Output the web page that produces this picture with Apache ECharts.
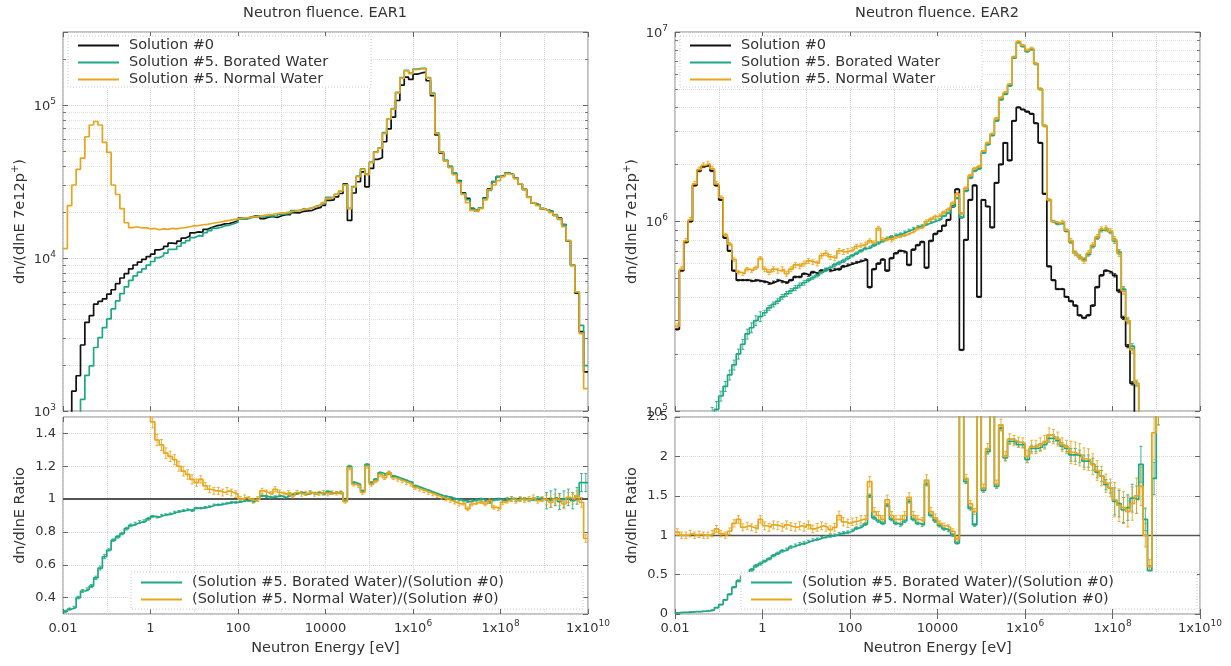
<!DOCTYPE html>
<html><head><meta charset="utf-8">
<script src="https://cdn.jsdelivr.net/npm/echarts@6/dist/echarts.min.js"></script>
<style>html,body{margin:0;padding:0;background:#fff}#c{width:1231px;height:666px}</style>
</head><body><div id="c"></div>
<script>
// ---------------- DATA ----------------
// Histogram binning: 10 equal-lethargy bins per decade, 0.01 eV .. 1e10 eV (120 bins)
const E_MIN_EXP = -2, E_MAX_EXP = 10, BINS_PER_DECADE = 10;

const titles = ['Neutron fluence. EAR1', 'Neutron fluence. EAR2'];
const seriesNames = ['Solution #0', 'Solution #5. Borated Water', 'Solution #5. Normal Water'];
const ratioNames = ['(Solution #5. Borated Water)/(Solution #0)', '(Solution #5. Normal Water)/(Solution #0)'];
const xAxisName = 'Neutron Energy [eV]';
const xTickValues = [0.01, 1, 100, 1e4, 1e6, 1e8, 1e10];
const xTickLabels = ['0.01', '1', '100', '10000', '1x10^6', '1x10^8', '1x10^10'];
const ear1TickValues = [1e3, 1e4, 1e5];
const ear1TickLabels = ['10^3', '10^4', '10^5'];
const ear2TickValues = [1e5, 1e6, 1e7];
const ear2TickLabels = ['10^5', '10^6', '10^7'];

// EAR1 dn/dlnE per bin
const ear1Sol0 = [600,850,1350,1700,2700,3800,4200,5000,5200,5400,
5800,6200,6800,7400,7900,8500,9000,9400,9800,10200,
10600,11300,11500,11900,12500,12400,12900,13500,13900,14600,
14800,14700,15400,15800,16200,16400,16700,16800,17100,17500,
18200,18100,18500,18800,18700,18100,18500,18700,18400,18900,
19200,19200,19800,19700,20200,20300,20500,21100,21400,22100,
23800,24000,25100,26400,30500,17600,26600,31500,36500,29200,
38500,44100,45200,57500,69800,83200,107000,135000,152000,147000,
159000,162000,164000,144000,115000,63700,48500,43000,39400,35700,
32000,26700,24500,21100,20400,21300,24700,28300,31600,34000,
34700,35900,35000,33300,30500,28100,25000,22800,22200,21000,
20600,20200,19000,18200,16500,12900,9000,5900,3300,1800];
const ear1Borated = [190,280,460,680,1190,1710,1970,2600,3020,3510,
4000,4650,5240,5850,6480,7140,7650,8080,8480,8980,
9490,10060,10350,10770,11380,11410,11930,12560,13000,13580,
13990,13890,14630,15090,15630,15830,16200,16380,16760,17150,
17930,17920,18320,18520,18700,18460,18780,18890,18680,19280,
19390,19580,20390,20390,21010,20910,21320,21840,22260,22760,
24870,24840,26100,27460,30200,21100,29300,34300,38300,35300,
42400,49400,52400,66100,81000,94800,120900,151000,168700,161700,
171700,173300,173800,151200,119600,65600,49500,43600,39800,35700,
31800,26400,24100,20900,20300,21300,24500,27700,31400,34000,
34400,35900,35200,33100,30500,28100,24900,22800,22300,21000,
20400,20200,19200,17900,16500,13000,8900,6000,3630,1980];
const ear1Normal = [11500,22000,30000,38000,45000,62000,74000,78000,74000,57000,
49000,30000,26000,21000,17000,15800,16000,15700,15800,15500,
15600,15300,15500,15400,15600,15500,15700,15800,16000,16200,
16300,16500,16600,16800,17000,17200,17400,17600,17800,18000,
18200,18300,18500,18600,18700,19000,19200,19300,19500,19700,
19800,20000,20200,20500,20800,21000,21300,21700,22200,23000,
24500,25000,26000,27500,30000,21000,29000,34000,38000,35000,
42000,49000,52000,65000,81000,94000,120000,150000,167000,160000,
170000,172000,172000,150000,118000,65000,49000,43000,39000,35000,
31000,26000,23000,20500,20000,21000,24000,28000,30000,32000,
34000,35500,35000,33000,30500,28000,25000,23000,22000,21000,
20500,19800,19000,18000,16000,13000,9000,6000,3200,1400];
// EAR1 ratios
const ear1RatioBorated = [0.316,0.33,0.34,0.40,0.44,0.45,0.47,0.52,0.58,0.65,
0.69,0.75,0.77,0.79,0.82,0.84,0.85,0.86,0.865,0.88,
0.895,0.89,0.90,0.905,0.91,0.92,0.925,0.93,0.935,0.93,
0.945,0.945,0.95,0.955,0.965,0.965,0.97,0.975,0.98,0.98,
0.985,0.99,0.99,0.985,1.0,1.02,1.015,1.01,1.015,1.02,
1.01,1.02,1.03,1.035,1.04,1.03,1.04,1.035,1.04,1.03,
1.045,1.035,1.04,1.04,0.99,1.2,1.1,1.09,1.05,1.21,
1.1,1.12,1.16,1.15,1.16,1.14,1.13,1.12,1.11,1.1,
1.08,1.07,1.06,1.05,1.04,1.03,1.02,1.015,1.01,1.0,
0.995,0.99,0.985,0.99,0.995,1.0,0.99,0.98,0.995,1.0,
0.99,1.0,1.005,0.995,1.0,1.0,0.995,1.0,1.005,1.0,
0.99,1.0,1.01,0.985,1.0,1.01,0.99,1.02,1.1,1.1];
const ear1RatioNormal = [18,24,22,22,17,16,17,15,14,11,
8.5,4.8,3.8,2.8,2.1,1.85,1.7,1.65,1.6,1.55,
1.47,1.36,1.33,1.28,1.26,1.24,1.2,1.17,1.15,1.12,
1.1,1.12,1.08,1.06,1.05,1.05,1.04,1.05,1.04,1.03,
1.0,1.01,1.0,0.99,1.0,1.05,1.04,1.03,1.06,1.04,
1.03,1.04,1.02,1.04,1.03,1.035,1.04,1.03,1.035,1.04,
1.03,1.04,1.035,1.04,0.985,1.19,1.09,1.08,1.04,1.2,
1.09,1.11,1.15,1.13,1.16,1.13,1.12,1.11,1.1,1.09,
1.07,1.06,1.05,1.04,1.03,1.02,1.01,1.0,0.99,0.98,
0.97,0.975,0.94,0.97,0.98,0.985,0.97,0.99,0.95,0.94,
0.98,0.99,1.0,0.99,1.0,0.995,1.0,1.01,0.99,1.0,
0.995,0.98,1.0,0.99,0.97,1.01,1.0,1.02,0.98,0.76];

// EAR2 dn/dlnE per bin
const ear2Sol0 = [270000,550000,780000,1000000,1550000,1850000,1950000,1980000,1850000,1550000,
1300000,820000,700000,550000,490000,490000,490000,485000,490000,485000,
480000,470000,480000,490000,480000,475000,490000,510000,510000,530000,
520000,540000,530000,550000,560000,550000,560000,560000,580000,590000,
600000,610000,620000,630000,450000,560000,600000,630000,550000,640000,
680000,700000,690000,590000,710000,750000,780000,570000,790000,860000,
890000,950000,1020000,1200000,1480000,210000,800000,1300000,1550000,400000,
1300000,1200000,930000,1600000,2000000,2600000,2100000,3400000,4000000,3900000,
3800000,3700000,3300000,2600000,1400000,580000,490000,440000,440000,400000,
380000,360000,320000,310000,320000,360000,450000,520000,550000,540000,
520000,430000,310000,220000,140000,50000,null,null,null,null,
null,null,null,null,null,null,null,null,null,null];
const ear2Borated = [4000,11000,16000,25000,47000,56000,69000,80000,95000,102000,
120000,135000,155000,175000,200000,225000,255000,275000,300000,315000,
330000,350000,365000,380000,400000,415000,430000,445000,460000,475000,
490000,505000,520000,540000,555000,570000,590000,605000,620000,640000,
660000,680000,700000,720000,730000,750000,770000,790000,810000,830000,
850000,860000,880000,900000,920000,940000,950000,970000,990000,1010000,
1030000,1070000,1110000,1200000,1330000,1050000,1450000,1700000,1850000,1900000,
2300000,2550000,2850000,3400000,4400000,4700000,5200000,7300000,8800000,8400000,
7900000,8100000,6800000,5000000,3200000,1300000,1000000,970000,980000,890000,
780000,680000,650000,630000,670000,740000,820000,900000,910000,880000,
790000,690000,440000,300000,220000,140000,50000,null,null,null,
null,null,null,null,null,null,null,null,null,null];
const ear2Normal = [280000,560000,790000,1020000,1580000,1880000,1980000,2020000,1900000,1580000,
1340000,850000,760000,630000,540000,530000,560000,550000,570000,640000,
560000,540000,560000,550000,560000,530000,560000,590000,580000,600000,
620000,610000,600000,660000,680000,650000,640000,700000,690000,700000,
710000,740000,750000,760000,790000,770000,920000,800000,810000,800000,
830000,840000,850000,870000,890000,920000,940000,1000000,1030000,1060000,
1080000,1120000,1160000,1250000,1400000,1100000,1500000,1750000,1900000,1950000,
2350000,2600000,2900000,3500000,4500000,4800000,5300000,7400000,8900000,8500000,
8000000,8200000,6800000,5000000,3200000,1300000,1000000,980000,1000000,900000,
790000,680000,650000,620000,680000,750000,830000,910000,920000,890000,
800000,680000,430000,300000,210000,140000,50000,null,null,null,
null,null,null,null,null,null,null,null,null,null];
// EAR2 ratios
const ear2RatioBorated = [0.015,0.02,0.02,0.025,0.03,0.03,0.035,0.04,0.05,0.08,
0.12,0.18,0.25,0.34,0.42,0.48,0.51,0.56,0.61,0.64,
0.67,0.70,0.74,0.77,0.80,0.82,0.85,0.87,0.89,0.90,
0.92,0.94,0.95,0.97,0.98,0.99,1.0,1.02,1.03,1.04,
1.06,1.09,1.11,1.14,1.5,1.22,1.18,1.15,1.38,1.2,
1.15,1.13,1.18,1.43,1.2,1.15,1.13,1.65,1.25,1.18,
1.12,1.08,1.06,1.0,0.9,3.2,1.68,1.34,1.13,3.2,
1.57,2.06,3.2,1.62,2.36,1.98,2.19,2.19,2.15,2.15,
1.96,2.1,2.1,2.12,2.15,2.23,2.23,2.2,2.13,2.1,
2.02,2.02,2.0,1.94,1.94,1.9,1.8,1.75,1.64,1.6,
1.43,1.4,1.32,1.35,1.47,1.45,1.9,1.2,0.55,1.72,
3.0,null,null,null,null,null,null,null,null,null];
const ear2RatioNormal = [1.04,1.0,1.0,1.02,1.0,1.01,1.0,1.0,1.02,1.08,
1.02,1.0,1.05,1.15,1.2,1.1,1.12,1.1,1.08,1.2,
1.12,1.1,1.13,1.12,1.1,1.13,1.11,1.1,1.12,1.1,
1.13,1.08,1.1,1.12,1.1,1.07,1.1,1.25,1.17,1.15,
1.17,1.18,1.2,1.2,1.68,1.3,1.25,1.2,1.45,1.25,
1.2,1.2,1.25,1.48,1.25,1.2,1.18,1.7,1.3,1.22,
1.15,1.12,1.1,1.05,0.95,3.5,1.72,1.4,1.3,3.5,
1.6,2.1,3.5,1.65,2.4,2.0,2.22,2.2,2.18,2.17,
2.0,2.12,2.12,2.15,2.18,2.27,2.25,2.22,2.15,2.12,
2.05,2.04,2.02,1.97,1.96,1.9,1.82,1.75,1.66,1.6,
1.45,1.38,1.35,1.3,1.4,1.5,1.62,1.0,0.6,2.3,
3.0,null,null,null,null,null,null,null,null,null];

// Relative statistical errors, one estimate per energy decade (0.01-0.1 eV ... 1e9-1e10 eV)
const ear1RatioBoratedRelErr = [0.02,0.01,0.006,0.005,0.005,0.005,0.005,0.005,0.005,0.006,0.01,0.05];
const ear1RatioNormalRelErr  = [0.03,0.03,0.025,0.02,0.015,0.012,0.01,0.01,0.01,0.012,0.015,0.03];
const ear2Sol0RelErr         = [0.01,0.008,0.01,0.012,0.01,0.01,0.008,0.006,0.008,0.01,0.02,0.03];
const ear2BoratedRelErr      = [0.1,0.06,0.03,0.02,0.015,0.012,0.01,0.008,0.01,0.02,0.03,0.05];
const ear2NormalRelErr       = [0.03,0.02,0.03,0.03,0.025,0.02,0.015,0.01,0.015,0.03,0.04,0.05];
const ear2RatioBoratedRelErr = [0.05,0.03,0.02,0.015,0.015,0.015,0.015,0.015,0.02,0.04,0.12,0.2];
const ear2RatioNormalRelErr  = [0.04,0.04,0.045,0.045,0.04,0.04,0.03,0.03,0.04,0.07,0.15,0.2];

// ---------------- CHART ----------------
const FONT = 'DejaVu Sans';
const TXT = '#333';
const C_BLACK = '#111111', C_GREEN = '#1ea883', C_ORANGE = '#e8a61c';
const GRID_COLOR = '#d6d6d6';
const BIG = 14.5;

const nBins = (E_MAX_EXP - E_MIN_EXP) * BINS_PER_DECADE;
const edges = [];
for (let k = 0; k <= nBins; k++) edges.push(Math.pow(10, E_MIN_EXP + k / BINS_PER_DECADE));

function hist(vals) {
  const d = vals.map((v, k) => [edges[k], v]);
  d.push([edges[vals.length], vals[vals.length - 1]]);
  return d;
}
function rich(s) {
  const i = s.indexOf('^');
  if (i < 0) return '{b|' + s + '}';
  return '{b|' + s.slice(0, i) + '}{s|' + s.slice(i + 1) + '}';
}
const RICH = {
  b: {fontSize: 13, fontFamily: FONT, color: TXT, lineHeight: 16, verticalAlign: 'bottom'},
  s: {fontSize: 9, fontFamily: FONT, color: TXT, lineHeight: 8, verticalAlign: 'top'}
};
const RICH_NAME = {
  b: {fontSize: BIG, fontFamily: FONT, color: TXT, lineHeight: 18, verticalAlign: 'bottom'},
  s: {fontSize: 10, fontFamily: FONT, color: TXT, lineHeight: 9, verticalAlign: 'top'}
};
function lookup(vals, labels) {
  return function (v) {
    for (let i = 0; i < vals.length; i++) {
      if (Math.abs(Math.log10(v) - Math.log10(vals[i])) < 1e-6) return rich(labels[i]);
    }
    return '';
  };
}

const grids = [
  {left: 63, top: 32, width: 525, height: 379},
  {left: 63, top: 417, width: 525, height: 197},
  {left: 675, top: 32, width: 525, height: 379},
  {left: 675, top: 417, width: 525, height: 197}
].map(g => Object.assign({show: true, borderColor: '#858585', borderWidth: 1, backgroundColor: 'transparent'}, g));

const tick = {show: true, inside: true, length: 5, lineStyle: {color: '#666', width: 1}};
const minorTick = {show: true, splitNumber: 9, length: 3, lineStyle: {color: '#777', width: 1}};
const split = {show: true, lineStyle: {color: GRID_COLOR, type: 'dotted', width: 1}};
const minorSplit = {show: true, lineStyle: {color: '#e2e2e2', type: 'dotted', width: 1}};

const xAxes = [];
const yAxes = [];
for (let g = 0; g < 4; g++) {
  const isRatio = g % 2 === 1;
  xAxes.push({
    type: 'log', logBase: 100, gridIndex: g, min: xTickValues[0], max: xTickValues[xTickValues.length - 1],
    axisLine: {show: false}, axisTick: tick, splitLine: split,
    axisLabel: {show: isRatio, formatter: lookup(xTickValues, xTickLabels), rich: RICH, margin: 5, showMinLabel: true, showMaxLabel: true},
    name: isRatio ? xAxisName : '', nameLocation: 'middle', nameGap: 27,
    nameTextStyle: {fontFamily: FONT, fontSize: BIG, color: TXT}
  });
  xAxes.push({
    type: 'log', logBase: 100, gridIndex: g, position: 'top', min: xTickValues[0], max: xTickValues[xTickValues.length - 1],
    axisLine: {show: false}, axisTick: tick, splitLine: {show: false}, axisLabel: {show: false}
  });
}
function yMain(g, cfg) {
  return Object.assign({
    gridIndex: g, axisLine: {show: false}, axisTick: tick, splitLine: split,
    nameLocation: 'middle', nameGap: 35,
    nameTextStyle: {fontFamily: FONT, fontSize: BIG, color: TXT, rich: RICH_NAME}
  }, cfg);
}
function yMirror(g, cfg) {
  return Object.assign({gridIndex: g, position: 'right', axisLine: {show: false}, axisTick: tick,
    splitLine: {show: false}, axisLabel: {show: false}}, cfg);
}
const yNameTop = '{b|dn/(dlnE 7e12p}{s|+}{b|)}';
const yNameRatio = '{b|dn/dlnE Ratio}';
const ratioLabel = {fontFamily: FONT, fontSize: 13, color: TXT, margin: 7, showMinLabel: false, showMaxLabel: false};
yAxes.push(yMain(0, {type: 'log', min: 1e3, max: 3e5, name: yNameTop, minorTick: minorTick, minorSplitLine: minorSplit,
  axisLabel: {formatter: lookup(ear1TickValues, ear1TickLabels), rich: RICH, margin: 7}}));
yAxes.push(yMirror(0, {type: 'log', min: 1e3, max: 3e5, minorTick: minorTick}));
yAxes.push(yMain(1, {type: 'value', min: 0.3, max: 1.5, splitNumber: 6, name: yNameRatio, axisLabel: ratioLabel}));
yAxes.push(yMirror(1, {type: 'value', min: 0.3, max: 1.5, splitNumber: 6}));
yAxes.push(yMain(2, {type: 'log', min: 1e5, max: 1e7, name: yNameTop, minorTick: minorTick, minorSplitLine: minorSplit,
  axisLabel: {formatter: lookup(ear2TickValues, ear2TickLabels), rich: RICH, margin: 7}}));
yAxes.push(yMirror(2, {type: 'log', min: 1e5, max: 1e7, minorTick: minorTick}));
yAxes.push(yMain(3, {type: 'value', min: 0, max: 2.5, splitNumber: 5, name: yNameRatio,
  axisLabel: {fontFamily: FONT, fontSize: 13, color: TXT, margin: 7}}));
yAxes.push(yMirror(3, {type: 'value', min: 0, max: 2.5, splitNumber: 5}));

// vertical guide lines at the unlabeled (odd) decades
const oddDecades = [];
for (let e = E_MIN_EXP + 1; e < E_MAX_EXP; e += 2) oddDecades.push(Math.pow(10, e));
function guides(g) {
  return {
    type: 'line', name: 'guides' + g, xAxisIndex: 2 * g, yAxisIndex: 2 * g, data: [], silent: true, z: 1,
    markLine: {
      z: 1, silent: true, symbol: ['none', 'none'], label: {show: false}, animation: false,
      lineStyle: {color: GRID_COLOR, type: 'dotted', width: 1}, emphasis: {disabled: true},
      data: oddDecades.map(v => ({xAxis: v}))
    }
  };
}
function unity(g, w) {
  return {
    type: 'line', name: 'unity' + g, xAxisIndex: 2 * g, yAxisIndex: 2 * g, data: [], silent: true, z: 2,
    markLine: {z: 2, silent: true, symbol: ['none', 'none'], label: {show: false}, animation: false,
      lineStyle: {color: '#555', type: 'solid', width: w}, emphasis: {disabled: true}, data: [{yAxis: 1}]}
  };
}
function line(name, vals, g, color) {
  return {
    type: 'line', name: name, xAxisIndex: 2 * g, yAxisIndex: 2 * g, data: hist(vals),
    step: 'end', showSymbol: false, symbol: 'none', clip: true, color: color,
    lineStyle: {color: color, width: 1.7}, emphasis: {disabled: true}, z: 3
  };
}
function errBars(name, vals, relErr, g, color) {
  const data = [];
  vals.forEach((v, k) => {
    if (v == null) return;
    data.push([Math.sqrt(edges[k] * edges[k + 1]), v, v * relErr[Math.floor(k / BINS_PER_DECADE)]]);
  });
  return {
    type: 'custom', name: name + ' err', xAxisIndex: 2 * g, yAxisIndex: 2 * g, data: data, clip: true, silent: true, z: 3,
    encode: {x: 0, y: 1},
    renderItem: function (params, api) {
      const x = api.value(0), y = api.value(1), e = api.value(2);
      const hi = api.coord([x, y + e]);
      const lo = api.coord([x, Math.max(y - e, 1e-9)]);
      const st = {stroke: color, lineWidth: 1, opacity: 0.85};
      return {type: 'group', children: [
        {type: 'line', shape: {x1: hi[0], y1: hi[1], x2: lo[0], y2: lo[1]}, style: st},
        {type: 'line', shape: {x1: hi[0] - 1.5, y1: hi[1], x2: hi[0] + 1.5, y2: hi[1]}, style: st},
        {type: 'line', shape: {x1: lo[0] - 1.5, y1: lo[1], x2: lo[0] + 1.5, y2: lo[1]}, style: st}
      ]};
    }
  };
}

const series = [
  guides(0), guides(1), guides(2), guides(3),
  unity(1, 2), unity(3, 1.3),
  line(seriesNames[0], ear1Sol0, 0, C_BLACK),
  line(seriesNames[1], ear1Borated, 0, C_GREEN),
  line(seriesNames[2], ear1Normal, 0, C_ORANGE),
  errBars(ratioNames[0], ear1RatioBorated, ear1RatioBoratedRelErr, 1, C_GREEN),
  line(ratioNames[0], ear1RatioBorated, 1, C_GREEN),
  errBars(ratioNames[1], ear1RatioNormal, ear1RatioNormalRelErr, 1, C_ORANGE),
  line(ratioNames[1], ear1RatioNormal, 1, C_ORANGE),
  errBars(seriesNames[0], ear2Sol0, ear2Sol0RelErr, 2, C_BLACK),
  line(seriesNames[0], ear2Sol0, 2, C_BLACK),
  errBars(seriesNames[1], ear2Borated, ear2BoratedRelErr, 2, C_GREEN),
  line(seriesNames[1], ear2Borated, 2, C_GREEN),
  errBars(seriesNames[2], ear2Normal, ear2NormalRelErr, 2, C_ORANGE),
  line(seriesNames[2], ear2Normal, 2, C_ORANGE),
  errBars(ratioNames[0], ear2RatioBorated, ear2RatioBoratedRelErr, 3, C_GREEN),
  line(ratioNames[0], ear2RatioBorated, 3, C_GREEN),
  errBars(ratioNames[1], ear2RatioNormal, ear2RatioNormalRelErr, 3, C_ORANGE),
  line(ratioNames[1], ear2RatioNormal, 3, C_ORANGE)
];

function legend(left, top, names) {
  return {
    orient: 'vertical', left: left, top: top, padding: 0, itemWidth: 41, itemHeight: 2, itemGap: 2,
    icon: 'rect', selectedMode: false, z: 10, data: names,
    textStyle: {fontFamily: FONT, fontSize: BIG, color: TXT, lineHeight: 15, padding: [0, 0, 0, 5]}
  };
}
function box(x, y, w, h) {
  return {type: 'rect', z: 9, silent: true, shape: {x: x, y: y, width: w, height: h},
    style: {fill: '#fff', stroke: '#c8c8c8', lineWidth: 1, lineDash: [1, 2]}};
}
function title(x, text) {
  return {type: 'text', z: 9, silent: true, x: x, y: 13,
    style: {text: text, fill: TXT, font: BIG + 'px "DejaVu Sans"', align: 'center', verticalAlign: 'middle'}};
}

const option = {
  animation: false,
  backgroundColor: '#fff',
  textStyle: {fontFamily: FONT},
  grid: grids,
  xAxis: xAxes,
  yAxis: yAxes,
  legend: [
    legend(78, 38, seriesNames),
    legend(690, 38, seriesNames),
    legend(141, 575, ratioNames),
    legend(751, 575, ratioNames)
  ],
  graphic: [
    box(68, 36, 303, 51), box(680, 36, 302, 51),
    box(131, 572, 452, 37), box(741, 572, 456, 37),
    title(325, titles[0]), title(937, titles[1])
  ],
  series: series
};
const chart = echarts.init(document.getElementById('c'), null, {renderer: 'canvas', width: 1231, height: 666});
chart.setOption(option);
</script>
</body></html>
